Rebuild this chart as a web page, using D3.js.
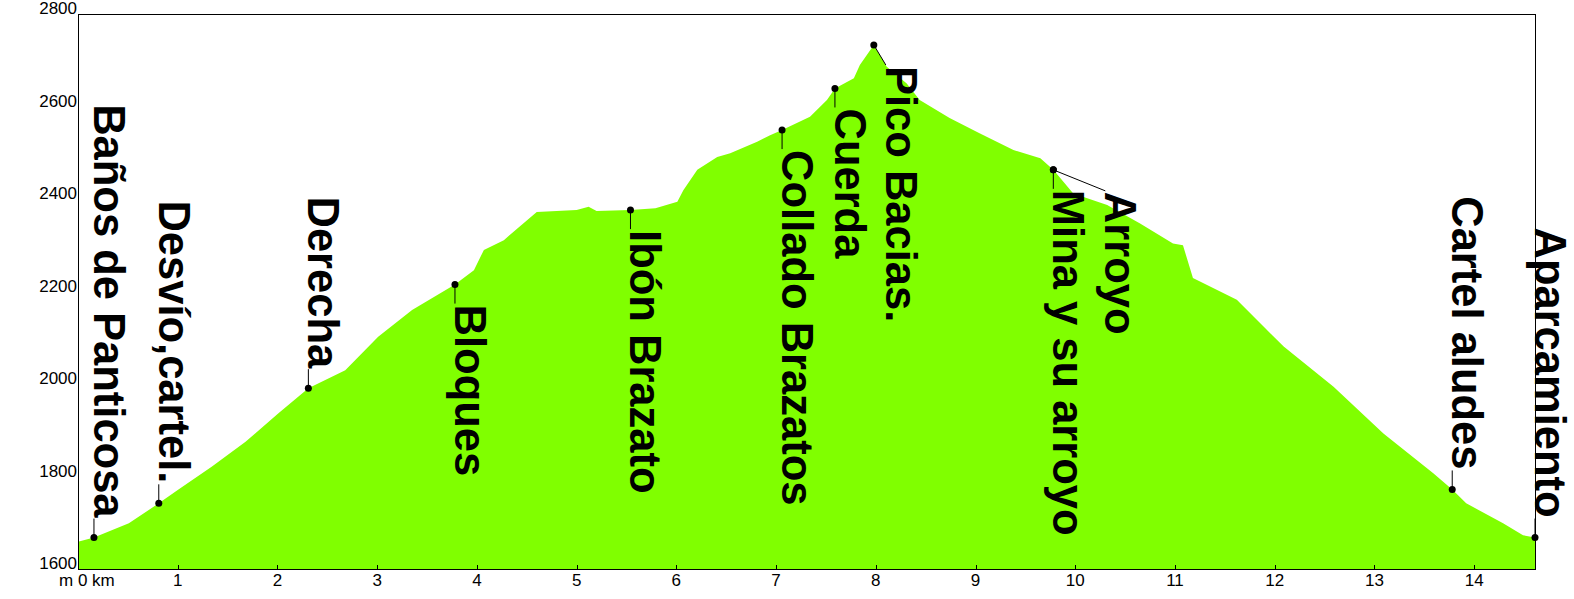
<!DOCTYPE html>
<html>
<head>
<meta charset="utf-8">
<script src="https://cdn.jsdelivr.net/npm/d3@7"></script>
<style>
  body { margin: 0; background: #fff; }
  text { font-family: "Liberation Sans", Arial, sans-serif; }
</style>
</head>
<body>
<svg id="chart" width="1574" height="599"></svg>
<script>
// elevation profile (distance in km, elevation in m)
const distKm = [0.00, 0.16, 0.51, 0.81, 1.00, 1.34, 1.68, 2.01, 2.31, 2.68, 3.01, 3.35, 3.78, 3.97, 4.07, 4.27,
  4.60, 5.00, 5.12, 5.20, 5.54, 5.79, 6.01, 6.07, 6.21, 6.41, 6.54, 6.81, 6.94, 7.06, 7.34, 7.51, 7.59, 7.78,
  7.84, 7.98, 8.11, 8.31, 8.44, 8.74, 9.04, 9.38, 9.65, 9.78, 9.98, 10.32, 10.65, 10.98, 11.08, 11.18, 11.62,
  12.09, 12.59, 13.09, 13.59, 13.78, 13.92, 14.29, 14.49, 14.61];
const elevM = [1659, 1668, 1699, 1742, 1771, 1821, 1875, 1937, 1991, 2030, 2102, 2160, 2215, 2246, 2290, 2311,
  2372, 2376, 2383, 2374, 2376, 2380, 2394, 2419, 2463, 2491, 2499, 2524, 2538, 2549, 2578, 2614, 2639, 2661,
  2690, 2733, 2686, 2650, 2614, 2575, 2542, 2506, 2488, 2463, 2412, 2387, 2347, 2304, 2300, 2229, 2182,
  2081, 1994, 1893, 1807, 1772, 1742, 1699, 1673, 1668];

// waypoints
const wpNames = ["Baños de Panticosa", "Desvío,cartel.", "Derecha", "Bloques", "Ibón Brazato", "Collado Brazatos",
  "Cuerda", "Pico Bacias.", "Mina y su arroyo", "Arroyo", "Cartel aludes", "Aparcamiento"];
const wpKm = [0.16, 0.81, 2.31, 3.78, 5.54, 7.06, 7.59, 7.98, 9.78, 9.78, 13.78, 14.61];
const wpElev = [1668, 1742, 1991, 2215, 2376, 2549, 2639, 2733, 2463, 2463, 1772, 1668];

const yTicks = [1600, 1800, 2000, 2200, 2400, 2600, 2800];
const xTicks = [1, 2, 3, 4, 5, 6, 7, 8, 9, 10, 11, 12, 13, 14];

// label layout: side (1 = below marker, -1 = above) and extra shift for crowded ones
const labelSide = [-1, -1, -1, 1, 1, 1, 1, 1, 1, 1, -1, -1];
const labelShift = [[0, 0], [0, 0], [0, 0], [0, 0], [0, 0], [0, 0], [0, 0], [12, 1], [0, 0], [52, 2], [0, 0], [0, 0]];

const svg = d3.select("#chart");
const plotL = 78, plotT = 14, plotR = 1535, plotB = 569;

const x = d3.scaleLinear().domain([0, 14.61]).range([plotL, plotR]);
const y = d3.scaleLinear().domain([1600, 2800]).range([plotB, plotT]);

const profile = distKm.map((d, i) => ({ km: d, m: elevM[i] }));

const area = d3.area()
  .x(d => x(d.km))
  .y0(y(1600))
  .y1(d => y(d.m));

svg.append("path")
  .datum(profile)
  .attr("d", area)
  .attr("fill", "#80ff00");

// frame
svg.append("rect")
  .attr("x", plotL + 0.5).attr("y", plotT + 0.5)
  .attr("width", plotR - plotL).attr("height", plotB - plotT)
  .attr("fill", "none").attr("stroke", "#000").attr("stroke-width", 1);

// x ticks (inside) and labels
svg.selectAll(".xt").data(xTicks).enter().append("line")
  .attr("x1", d => Math.round(x(d)) + 0.5).attr("x2", d => Math.round(x(d)) + 0.5)
  .attr("y1", plotB).attr("y2", plotB - 4)
  .attr("stroke", "#000");

svg.selectAll(".xl").data(xTicks).enter().append("text")
  .attr("x", d => x(d)).attr("y", 586)
  .attr("text-anchor", "middle")
  .attr("font-size", 17)
  .text(d => d);

svg.append("text").attr("x", 59).attr("y", 586).attr("font-size", 17).text("m 0 km");

// y labels
svg.selectAll(".yl").data(yTicks).enter().append("text")
  .attr("x", 77).attr("y", d => y(d))
  .attr("text-anchor", "end")
  .attr("font-size", 17)
  .text(d => d);

// waypoints
const wp = wpNames.map((n, i) => ({
  name: n, mx: x(wpKm[i]), my: y(wpElev[i]), side: labelSide[i], dx: labelShift[i][0], dy: labelShift[i][1]
}));

const g = svg.selectAll(".wp").data(wp).enter().append("g");

g.append("line")
  .attr("x1", d => d.mx).attr("y1", d => d.my)
  .attr("x2", d => d.mx + d.dx).attr("y2", d => d.my + d.side * 19 + d.dy)
  .attr("stroke", "#000").attr("stroke-width", 1);

g.append("circle")
  .attr("cx", d => d.mx).attr("cy", d => d.my)
  .attr("r", 3.5).attr("fill", "#000");

g.append("text")
  .attr("transform", d => `translate(${d.mx + d.dx},${d.my + d.side * 20 + d.dy}) rotate(90)`)
  .attr("text-anchor", d => d.side > 0 ? "start" : "end")
  .attr("font-size", 43.5)
  .attr("font-weight", "bold")
  .text(d => d.name);
</script>
</body>
</html>
